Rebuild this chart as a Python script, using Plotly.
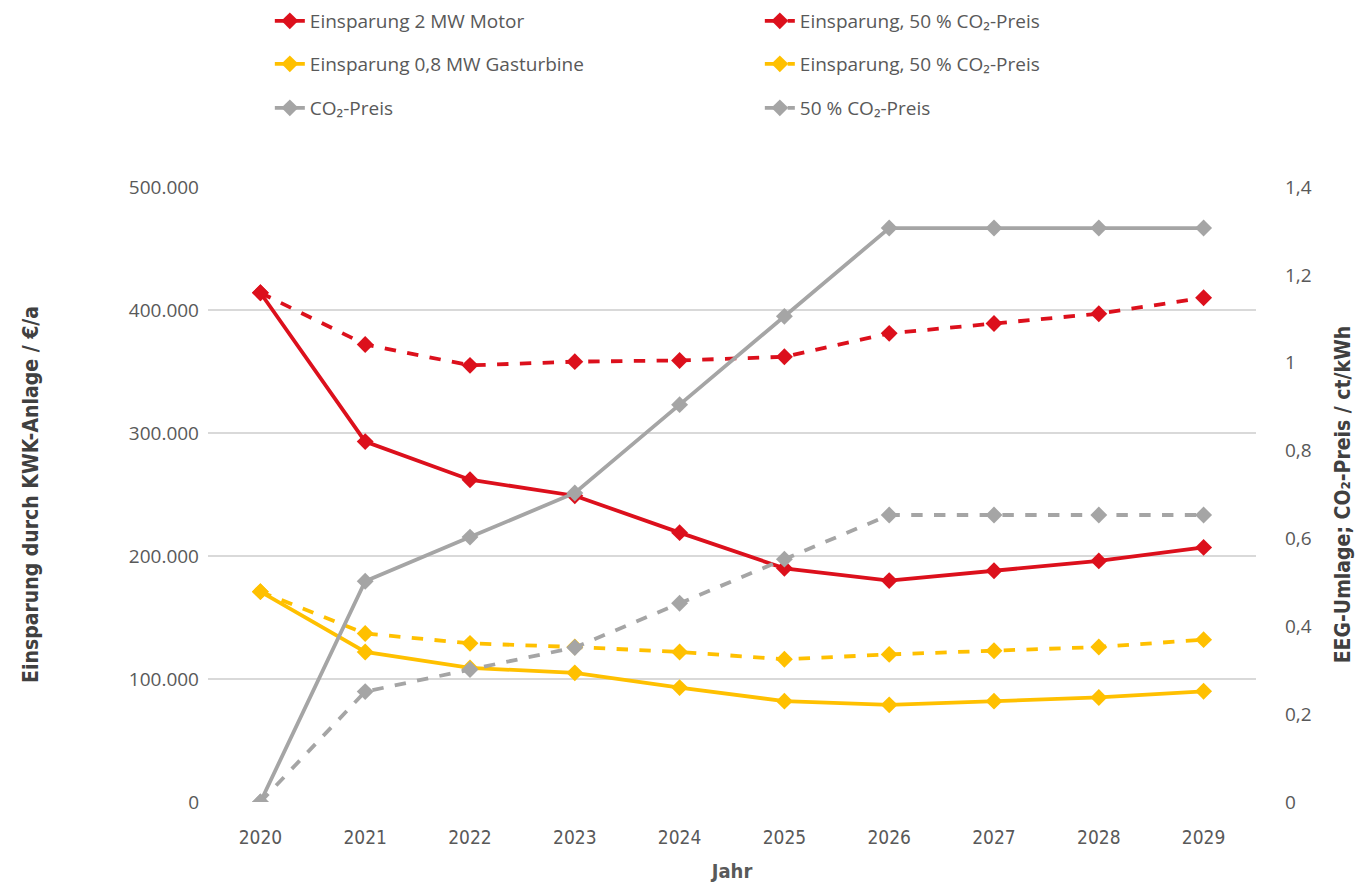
import plotly.graph_objects as go

years = ["2020", "2021", "2022", "2023", "2024", "2025", "2026", "2027", "2028", "2029"]

motor = [414000, 293000, 262000, 249000, 219000, 190000, 180000, 188000, 196000, 207000]
motor_50 = [414000, 372000, 355000, 358000, 359000, 362000, 381000, 389000, 397000, 410000]
gas = [171000, 122000, 109000, 105000, 93000, 82000, 79000, 82000, 85000, 90000]
gas_50 = [171000, 137000, 129000, 126000, 122000, 116000, 120000, 123000, 126000, 132000]
co2 = [0, 0.5025, 0.603, 0.7035, 0.9045, 1.1055, 1.3065, 1.3065, 1.3065, 1.3065]
co2_50 = [0, 0.2513, 0.3015, 0.3518, 0.4523, 0.5528, 0.6533, 0.6533, 0.6533, 0.6533]

RED = "#DC101C"
YEL = "#FFC000"
GRY = "#A5A5A5"
TXT = "#595959"
COND = "DejaVu Sans Condensed, Roboto, sans-serif"

fig = go.Figure()

def add(y, name, color, dash, yaxis, legend):
    fig.add_trace(go.Scatter(
        x=years, y=y, name=name, mode="lines+markers",
        line=dict(color=color, width=3.8, dash=dash),
        marker=dict(symbol="diamond", size=13, color=color),
        yaxis=yaxis, legend=legend,
    ))

add(motor, "Einsparung 2 MW Motor", RED, "solid", "y", "legend")
add(motor_50, "Einsparung, 50 % CO₂-Preis", RED, "dash", "y", "legend")
add(gas, "Einsparung 0,8 MW Gasturbine", YEL, "solid", "y", "legend2")
add(gas_50, "Einsparung, 50 % CO₂-Preis", YEL, "dash", "y", "legend2")
add(co2, "CO₂-Preis", GRY, "solid", "y2", "legend3")
add(co2_50, "50 % CO₂-Preis", GRY, "dash", "y2", "legend3")

leg_common = dict(orientation="h", xanchor="left", yanchor="middle", x=0.059,
                  entrywidth=445, entrywidthmode="pixels",
                  font=dict(family="Open Sans", size=19, color=TXT),
                  bgcolor="rgba(0,0,0,0)", traceorder="normal",
                  yref="container")

fig.update_layout(
    width=1363, height=885,
    margin=dict(l=200, r=115, t=179, b=91, autoexpand=False),
    plot_bgcolor="white", paper_bgcolor="white",
    separators=",.",
    legend=dict(y=1 - 13 / 885, **leg_common),
    legend2=dict(y=1 - 56 / 885, **leg_common),
    legend3=dict(y=1 - 100 / 885, **leg_common),
    xaxis=dict(
        type="category", range=[-0.5, 9.5], showgrid=False, showline=False,
        ticks="", tickfont=dict(family=COND, size=19, color=TXT),
        ticklabelstandoff=22,
        title=dict(text="<b>Jahr</b>", font=dict(family=COND, size=20, color=TXT), standoff=16),
    ),
    yaxis=dict(
        range=[0, 500000], dtick=100000, tickformat=",d",
        showgrid=True, gridcolor="#D9D9D9", gridwidth=1.5, zeroline=False, showline=False,
        tickfont=dict(family="Open Sans", size=19, color=TXT), ticklabelstandoff=8,
        title=dict(text="<b>Einsparung durch KWK-Anlage / €/a</b>",
                   font=dict(family=COND, size=21, color="#404040"), standoff=84),
    ),
    yaxis2=dict(
        range=[0, 1.4], dtick=0.2, overlaying="y", side="right",
        showgrid=False, zeroline=False, showline=False,
        tickfont=dict(family="Open Sans", size=19, color=TXT), ticklabelstandoff=28,
        title=dict(text="<b>EEG-Umlage; CO₂-Preis / ct/kWh</b>",
                   font=dict(family=COND, size=21, color="#404040"), standoff=24),
    ),
)

fig.write_html("out.html")
